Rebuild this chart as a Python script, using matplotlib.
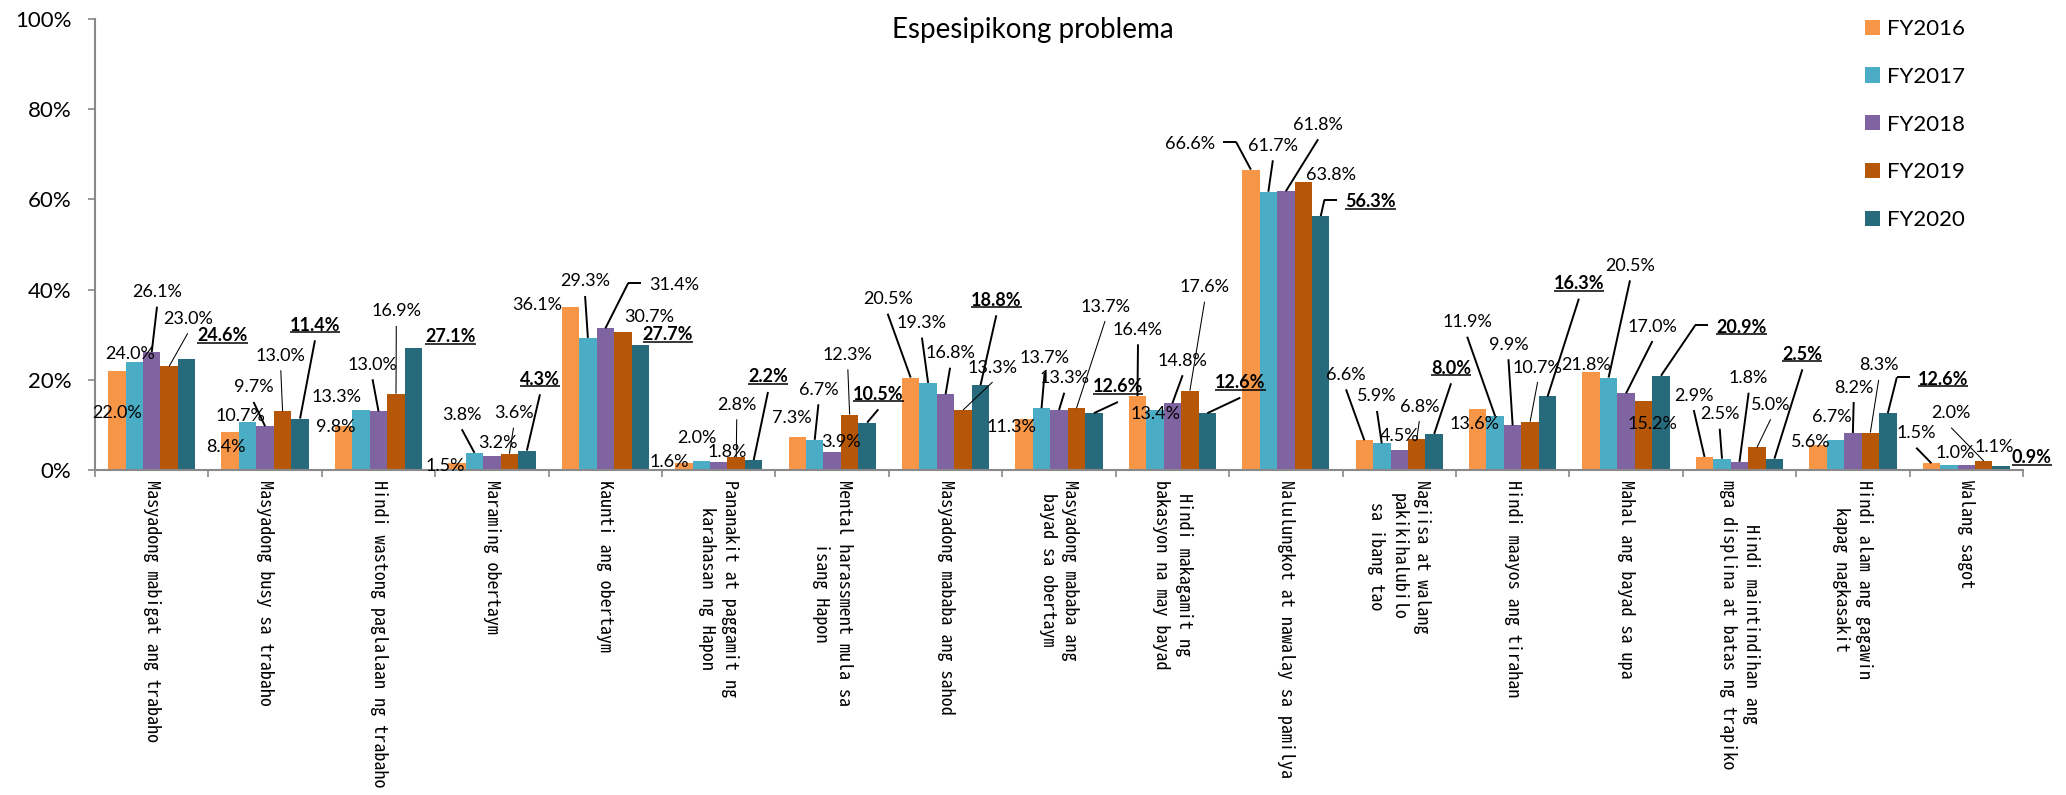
import numpy as np
import matplotlib
matplotlib.use('Agg')
import matplotlib.pyplot as plt
from matplotlib.lines import Line2D

categories = [
    "Masyadong mabigat ang trabaho",
    "Masyadong busy sa trabaho",
    "Hindi wastong paglalaan ng trabaho",
    "Maraming obertaym",
    "Kaunti ang obertaym",
    "Pananakit at paggamit ng\nkarahasan ng Hapon",
    "Mental harassment mula sa\nisang Hapon",
    "Masyadong mababa ang sahod",
    "Masyadong mababa ang\nbayad sa obertaym",
    "Hindi makagamit ng\nbakasyon na may bayad",
    "Nalulungkot at nawalay sa pamilya",
    "Nagiisa at walang\npakikihalubilo\nsa ibang tao",
    "Hindi maayos ang tirahan",
    "Mahal ang bayad sa upa",
    "Hindi maintindihan ang\nmga displina at batas ng trapiko",
    "Hindi alam ang gagawin\nkapag nagkasakit",
    "Walang sagot",
]
years = ["FY2016", "FY2017", "FY2018", "FY2019", "FY2020"]

fy2016 = [22.0, 8.4, 9.8, 1.5, 36.1, 1.6, 7.3, 20.5, 11.3, 16.4, 66.6, 6.6, 13.6, 21.8, 2.9, 5.6, 1.5]
fy2017 = [24.0, 10.7, 13.3, 3.8, 29.3, 2.0, 6.7, 19.3, 13.7, 13.4, 61.7, 5.9, 11.9, 20.5, 2.5, 6.7, 1.0]
fy2018 = [26.1, 9.7, 13.0, 3.2, 31.4, 1.8, 3.9, 16.8, 13.3, 14.8, 61.8, 4.5, 9.9, 17.0, 1.8, 8.2, 1.1]
fy2019 = [23.0, 13.0, 16.9, 3.6, 30.7, 2.8, 12.3, 13.3, 13.7, 17.6, 63.8, 6.8, 10.7, 15.2, 5.0, 8.3, 2.0]
fy2020 = [24.6, 11.4, 27.1, 4.3, 27.7, 2.2, 10.5, 18.8, 12.6, 12.6, 56.3, 8.0, 16.3, 20.9, 2.5, 12.6, 0.9]

colors = ['#F79646', '#4BACC6', '#8064A2', '#B65708', '#276A7B']

# label placement: offset (px) of label centre from bar top, leader kind
off16 = [(0.5, 40.9, ''), (-4.3, 12.9, ''), (-8.2, -0.8, ''), (-11.7, 0.8, ''), (-32.8, -3.9, ''),
         (-14.2, -1.8, ''), (-5.6, -20.4, ''), (-23, -79.8, 'b'), (-12.2, 6, ''), (0.5, -67.7, 'b'),
         (-61, -26.9, 'r'), (-18.3, -66.9, 'b'), (-3.3, 14, ''), (-5.4, -8.4, ''), (-10.8, -62.9, 'b'),
         (-7.2, -4.7, ''), (-15.1, -31.5, 'b')]
off17 = [(-3.9, -9.5, ''), (-7.3, -7.4, ''), (-24.3, -15, ''), (-12.7, -39.6, 'b'), (-2.8, -57.9, 'b'),
         (-4.5, -24.3, ''), (3.7, -51.5, 'b'), (-6.2, -61.3, 'b'), (3.1, -51.5, 'b'), (0.7, 3.1, ''),
         (4.5, -47.4, 'b'), (-4.8, -48.4, 'b'), (-28, -95.6, 'b'), (21.4, -113.2, 'b'), (-2.3, -46, 'b'),
         (-3.2, -23.8, ''), (6.4, -13.8, '')]
off18 = [(5.3, -61.6, 'b'), (-11.6, -40.3, 'b'), (-6, -48.1, 'b'), (5.6, -13.9, ''), (68.9, -44.4, 'l'),
         (8.5, -10.9, ''), (9.1, -12.4, ''), (4.5, -42.5, 'b'), (5.3, -33.3, 'b'), (10.2, -44, 'b'),
         (32.3, -68, 'b'), (0.1, -15.7, ''), (-4.2, -82.1, 'b'), (26.4, -68.3, 'b'), (9.2, -85.2, 'b'),
         (0.8, -47, 'b'), (28.2, -20, '')]
off19 = [(18.6, -49, 'b'), (-1.8, -57.1, 'b'), (0.3, -83.8, 'b'), (4.1, -42.1, 'b'), (26, -16.5, ''),
         (0.5, -54.1, 'b'), (-1.8, -61.2, 'b'), (29.5, -44, 'b'), (28.6, -103.2, 'b'), (14.7, -104.9, 'b'),
         (27.8, -9, ''), (2.6, -34.3, 'b'), (7.5, -55.7, 'b'), (8.8, 21.3, ''), (13.7, -44.2, 'b'),
         (8.3, -68.6, 'b'), (-32.6, -49.3, 'b')]
off20 = [(36, -24.1, ''), (14.9, -94.3, 'b'), (36.8, -11.8, ''), (13.1, -72.3, 'b'), (27.5, -11.1, ''),
         (14.3, -84.1, 'b'), (11.2, -29.3, 'b'), (15.8, -85.9, 'b'), (24, -27.2, 'b'), (33, -31.5, 'b'),
         (50, -15.4, 'l'), (16.9, -66.6, 'b'), (31.3, -113.8, 'b'), (80.6, -49.7, 'l'), (28, -105.4, 'b'),
         (55.3, -34.9, 'l'), (30.6, -9.2, '')]

series = [fy2016, fy2017, fy2018, fy2019, fy2020]
offsets = [off16, off17, off18, off19, off20]

W, H = 2066, 795
fig = plt.figure(figsize=(W / 100, H / 100), dpi=100)
ax = fig.add_axes([95 / W, 1 - 470 / H, 1928 / W, 451 / H])

x = np.arange(len(categories))
bw = 0.154
handles = []
for j in range(5):
    b = ax.bar(x + (j - 2) * bw, series[j], bw, color=colors[j], label=years[j], linewidth=0)
    handles.append(b)

ax.set_xlim(-0.5, len(categories) - 0.5)
ax.set_ylim(0, 100)
for s in ['top', 'right']:
    ax.spines[s].set_visible(False)
for s in ['left', 'bottom']:
    ax.spines[s].set_color('#898989')
    ax.spines[s].set_linewidth(1.5)

ax.set_yticks(range(0, 101, 20))
ax.set_yticklabels([f'{v}%' for v in range(0, 101, 20)], family='Lato', fontsize=16)
ax.tick_params(axis='y', length=5, width=1.2, color='#898989', pad=12)

ax.set_xticks(np.arange(-0.5, len(categories), 1))
ax.set_xticklabels([])
ax.tick_params(axis='x', which='major', length=5, width=1.2, color='#898989')
ax.set_xticks(x, minor=True)
ax.set_xticklabels(categories, minor=True, rotation=-90, va='top', ha='center',
                   multialignment='center', family=['Noto Sans Mono CJK JP', 'DejaVu Sans Mono'],
                   fontsize=13, linespacing=1.35)
ax.tick_params(axis='x', which='minor', length=0, pad=7)

fig.text(0.5, 1 - 30 / H, 'Espesipikong problema', ha='center', va='center',
         family='Lato', fontsize=20)

fig.legend(handles, years, loc='upper left', bbox_to_anchor=(1865 / W, 1 - 19 / H),
           frameon=False, prop={'family': 'Lato', 'size': 16}, handlelength=0.68,
           handleheight=0.68, handletextpad=0.3, labelspacing=1.25, borderpad=0, borderaxespad=0)

renderer = fig.canvas.get_renderer()


def seg(p0, p1, lw):
    fig.add_artist(Line2D([p0[0] / W, p1[0] / W], [p0[1] / H, p1[1] / H],
                          transform=fig.transFigure, color='black', lw=lw,
                          solid_capstyle='butt'))


for j in range(5):
    lw = 0.75 if j == 3 else 1.4
    bold = j == 4
    for i, v in enumerate(series[j]):
        bx, by = ax.transData.transform((x[i] + (j - 2) * bw, v))
        dx, dy, kind = offsets[j][i]
        cx, cy = bx + dx, by - dy
        t = fig.text(cx / W, (cy - 6.5) / H, f'{v:.1f}%', ha='center', va='baseline',
                     family='Lato', fontsize=13, fontweight='bold' if bold else 'normal')
        bb = t.get_window_extent(renderer)
        if bold:
            seg((bb.x0, cy - 8), (bb.x1, cy - 8), 1.1)
        if kind == 'b':
            seg((cx, cy - 16), (bx, by), lw)
        elif kind == 'l':
            seg((bb.x0 - 8, cy + 1), (bb.x0 - 21, cy + 1), lw)
            seg((bb.x0 - 21, cy + 1), (bx, by), lw)
        elif kind == 'r':
            seg((bb.x1 + 8, cy + 1), (bb.x1 + 21, cy + 1), lw)
            seg((bb.x1 + 21, cy + 1), (bx, by), lw)

fig.savefig('out.png', dpi=100)
